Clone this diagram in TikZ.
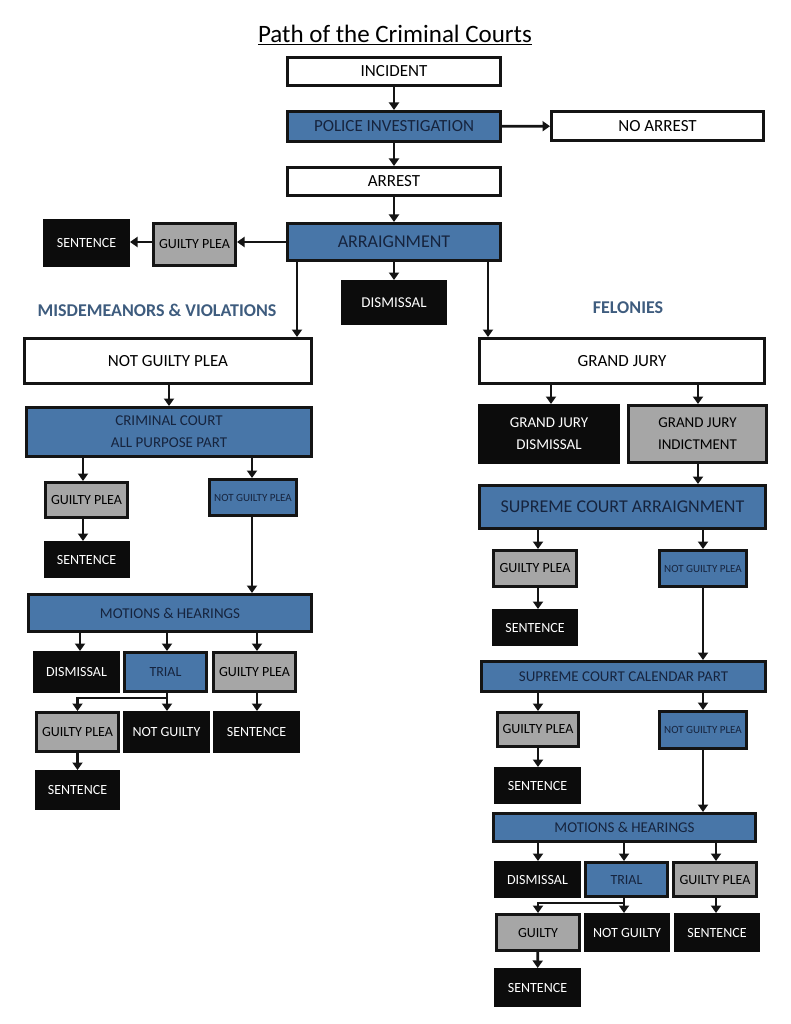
\documentclass[tikz,border=0pt]{standalone}
\usepackage{fontspec}
\setmainfont{Carlito}
\usetikzlibrary{arrows.meta,calc}
\definecolor{bxblue}{RGB}{72,118,168}
\definecolor{bxgray}{RGB}{166,166,166}
\definecolor{bxblack}{RGB}{12,12,12}
\definecolor{bxnavy}{RGB}{22,36,62}
\definecolor{lblcol}{RGB}{62,92,126}
\definecolor{brd}{RGB}{20,20,20}
\tikzset{
  bx/.style={draw=brd, line width=3pt, inner sep=0pt, align=center, font=\fontsize{14}{17}\selectfont},
  wbox/.style={bx, fill=white, text=black},
  bbox/.style={bx, fill=bxblue, text=bxnavy},
  gbox/.style={bx, fill=bxgray, text=black},
  kbox/.style={bx, fill=bxblack, draw=bxblack, text=white},
  big/.style={font=\fontsize{17}{20}\selectfont},
  mid/.style={font=\fontsize{15}{22}\selectfont},
  tiny/.style={font=\fontsize{11}{12}\selectfont},
  sz/.style 2 args={minimum width=#1pt-3pt, minimum height=#2pt-3pt},
  arr/.style={line width=2.8pt, draw=brd, -{Triangle[width=10pt,length=7.5pt]}},
  lbl/.style={text=lblcol, font=\bfseries\fontsize{18}{20}\selectfont}
}
\begin{document}
\begin{tikzpicture}[x=1pt,y=-1pt]
\useasboundingbox (0,0) rectangle (791,1024);
\node (title) at (395,35) {\fontsize{25}{30}\selectfont\underline{Path of the Criminal Courts}};
% top column
\node[wbox,big,sz={216}{31}] (inc) at (394,71.5) {INCIDENT};
\node[bbox,big,sz={216}{33}] (pol) at (394,126.5) {POLICE INVESTIGATION};
\node[wbox,big,sz={215}{32}] (noarr) at (657.5,126) {NO ARREST};
\node[wbox,big,sz={216}{31}] (arr) at (394,181.5) {ARREST};
\node[bbox,font=\fontsize{18}{20}\selectfont,sz={216}{40}] (arrn) at (394,242) {ARRAIGNMENT};
\node[gbox,sz={85}{45}] (agp) at (194.5,244.5) {GUILTY PLEA};
\node[kbox,sz={87}{48}] (asen) at (86.5,243) {SENTENCE};
\node[kbox,font=\fontsize{15}{17}\selectfont,sz={106}{45}] (adis) at (394,302.5) {DISMISSAL};
\node[lbl] (misd) at (157,310) {MISDEMEANORS \& VIOLATIONS};
\node[lbl] (fel) at (628,308) {FELONIES};
% left branch
\node[wbox,big,sz={290}{48}] (ngp) at (168,361) {NOT GUILTY PLEA};
\node[bbox,mid,sz={288}{52}] (ccap) at (169,432) {CRIMINAL COURT\\ALL PURPOSE PART};
\node[gbox,sz={85}{38}] (lgp1) at (86.5,500) {GUILTY PLEA};
\node[bbox,tiny,sz={90}{39}] (lngp1) at (253,497.5) {NOT GUILTY PLEA};
\node[kbox,sz={86}{37}] (lsen1) at (86.5,559.5) {SENTENCE};
\node[bbox,mid,sz={286}{40}] (lmh) at (170,613) {MOTIONS \& HEARINGS};
\node[kbox,sz={87}{42}] (ldis) at (76.5,672) {DISMISSAL};
\node[bbox,sz={85}{42}] (ltrial) at (165.5,672) {TRIAL};
\node[gbox,sz={85}{42}] (lgp2) at (254.5,672) {GUILTY PLEA};
\node[gbox,sz={85}{42}] (lgp3) at (77.5,732) {GUILTY PLEA};
\node[kbox,sz={87}{42}] (lng) at (166.5,732) {NOT GUILTY};
\node[kbox,sz={87}{42}] (lsen2) at (256.5,732) {SENTENCE};
\node[kbox,sz={85}{40}] (lsen3) at (77.5,790) {SENTENCE};
% right branch
\node[wbox,big,sz={288}{48}] (gj) at (622,361) {GRAND JURY};
\node[kbox,mid,sz={142}{60}] (gjd) at (549,434) {GRAND JURY\\DISMISSAL};
\node[gbox,mid,sz={141}{60}] (gji) at (697.5,434) {GRAND JURY\\INDICTMENT};
\node[bbox,font=\fontsize{18}{20}\selectfont,sz={289}{46}] (sca) at (622.5,507) {SUPREME COURT ARRAIGNMENT};
\node[gbox,sz={86}{39}] (rgp1) at (535,568.5) {GUILTY PLEA};
\node[bbox,tiny,sz={90}{39}] (rngp1) at (703,568.5) {NOT GUILTY PLEA};
\node[kbox,sz={86}{37}] (rsen1) at (535,627.5) {SENTENCE};
\node[bbox,mid,sz={287}{33}] (sccp) at (623.5,676.5) {SUPREME COURT CALENDAR PART};
\node[gbox,sz={84}{37}] (rgp2) at (538,729.5) {GUILTY PLEA};
\node[bbox,tiny,sz={90}{40}] (rngp2) at (703,730) {NOT GUILTY PLEA};
\node[kbox,sz={87}{37}] (rsen2) at (537.5,785.5) {SENTENCE};
\node[bbox,mid,sz={265}{31}] (rmh) at (624.5,827.5) {MOTIONS \& HEARINGS};
\node[kbox,sz={87}{37}] (rdis) at (537.5,879.5) {DISMISSAL};
\node[bbox,sz={85}{37}] (rtrial) at (626.5,879.5) {TRIAL};
\node[gbox,sz={86}{37}] (rgp3) at (715,879.5) {GUILTY PLEA};
\node[gbox,sz={86}{39}] (rg) at (538,932.5) {GUILTY};
\node[kbox,sz={86}{39}] (rng) at (627,932.5) {NOT GUILTY};
\node[kbox,sz={86}{39}] (rsen3) at (717,932.5) {SENTENCE};
\node[kbox,sz={87}{39}] (rsen4) at (537.5,987.5) {SENTENCE};
% helper columns
\coordinate (c297) at (297,0);
\coordinate (c488) at (488,0);
\coordinate (c83) at (83,0);
\coordinate (c252) at (252,0);
\coordinate (c80) at (80,0);
\coordinate (c167) at (167,0);
\coordinate (c257) at (257,0);
\coordinate (c551) at (551,0);
\coordinate (c698) at (698,0);
\coordinate (c538) at (538,0);
\coordinate (c703) at (703,0);
\coordinate (c624) at (624,0);
\coordinate (c716) at (716,0);
% connectors top
\draw[arr] (inc) -- (pol);
\draw[arr] (pol) -- (noarr);
\draw[arr] (pol) -- (arr);
\draw[arr] (arr) -- (arrn);
\draw[arr] (arrn.west) -- (agp.east |- arrn.west);
\draw[arr] (agp.west |- arrn.west) -- (asen.east |- arrn.west);
\draw[arr] (arrn) -- (adis);
\draw[arr] (arrn.south -| c297) -- (ngp.north -| c297);
\draw[arr] (arrn.south -| c488) -- (gj.north -| c488);
% left
\draw[arr] (ngp.south -| ccap.north) -- (ccap.north);
\draw[arr] (ccap.south -| c83) -- (lgp1.north -| c83);
\draw[arr] (ccap.south -| c252) -- (lngp1.north -| c252);
\draw[arr] (lgp1.south -| c83) -- (lsen1.north -| c83);
\draw[arr] (lngp1.south -| c252) -- (lmh.north -| c252);
\draw[arr] (lmh.south -| c80) -- (ldis.north -| c80);
\draw[arr] (lmh.south -| c167) -- (ltrial.north -| c167);
\draw[arr] (lmh.south -| c257) -- (lgp2.north -| c257);
\draw[arr] (ltrial.south -| c167) -- (lng.north -| c167);
\draw[arr] ($(ltrial.south -| c167)+(0,5)$) -| (lgp3.north);
\draw[arr] (lgp2.south -| c257) -- (lsen2.north -| c257);
\draw[arr] (lgp3) -- (lsen3);
% right
\draw[arr] (gj.south -| c551) -- (gjd.north -| c551);
\draw[arr] (gj.south -| c698) -- (gji.north -| c698);
\draw[arr] (gji.south -| c698) -- (sca.north -| c698);
\draw[arr] (sca.south -| c538) -- (rgp1.north -| c538);
\draw[arr] (sca.south -| c703) -- (rngp1.north -| c703);
\draw[arr] (rgp1.south -| c538) -- (rsen1.north -| c538);
\draw[arr] (rngp1.south -| c703) -- (sccp.north -| c703);
\draw[arr] (sccp.south -| c538) -- (rgp2.north -| c538);
\draw[arr] (sccp.south -| c703) -- (rngp2.north -| c703);
\draw[arr] (rgp2.south -| c538) -- (rsen2.north -| c538);
\draw[arr] (rngp2.south -| c703) -- (rmh.north -| c703);
\draw[arr] (rmh.south -| c538) -- (rdis.north -| c538);
\draw[arr] (rmh.south -| c624) -- (rtrial.north -| c624);
\draw[arr] (rmh.south -| c716) -- (rgp3.north -| c716);
\draw[arr] (rtrial.south -| c624) -- (rng.north -| c624);
\draw[arr] ($(rtrial.south -| c624)+(0,5)$) -| (rg.north);
\draw[arr] (rgp3.south -| c716) -- (rsen3.north -| c716);
\draw[arr] (rg) -- (rsen4);
\end{tikzpicture}
\end{document}
